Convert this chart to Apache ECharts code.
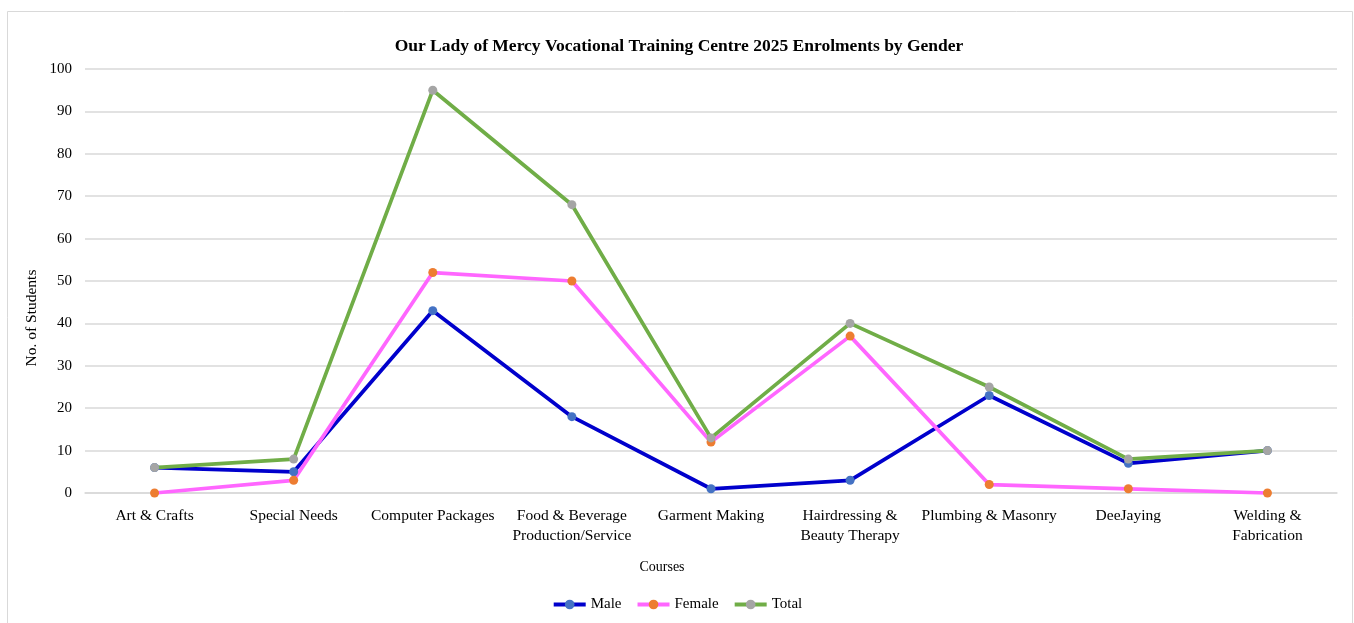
<!DOCTYPE html>
<html>
<head>
<meta charset="utf-8">
<script src="https://cdn.jsdelivr.net/npm/echarts@6/dist/echarts.min.js"></script>
<style>
html,body{margin:0;padding:0;background:#fff;}
#chart{width:1354px;height:623px;}
</style>
</head>
<body>
<div id="chart"></div>
<script>
const categories = ["Art & Crafts", "Special Needs", "Computer Packages", "Food & Beverage\nProduction/Service", "Garment Making", "Hairdressing &\nBeauty Therapy", "Plumbing & Masonry", "DeeJaying", "Welding &\nFabrication"];
const male = [6, 5, 43, 18, 1, 3, 23, 7, 10];
const female = [0, 3, 52, 50, 12, 37, 2, 1, 0];
const total = [6, 8, 95, 68, 13, 40, 25, 8, 10];
const titleText = "Our Lady of Mercy Vocational Training Centre 2025 Enrolments by Gender";

const font = "'Liberation Serif', 'DejaVu Serif', serif";
const chart = echarts.init(document.getElementById('chart'));

function mkSeries(name, data, lineColor, markerColor) {
  return {
    name: name, type: 'line', data: data,
    symbol: 'circle', symbolSize: 9, showAllSymbol: true,
    lineStyle: { color: lineColor, width: 3.75 },
    itemStyle: { color: markerColor, borderWidth: 0 },
    emphasis: { disabled: true },
    animation: false
  };
}

chart.setOption({
  animation: false,
  backgroundColor: '#fff',
  title: {
    text: titleText, left: 674, top: 32, textAlign: 'center',
    textStyle: { fontFamily: font, fontSize: 17.5, fontWeight: 'bold', color: '#000' }
  },
  graphic: [
    { type: 'rect', shape: { x: 7.5, y: 11.5, width: 1345, height: 640 }, style: { fill: 'none', stroke: '#d9d9d9', lineWidth: 1 }, silent: true, z: -1 },
    { type: 'text', x: 32, y: 318, rotation: Math.PI / 2, style: { text: 'No. of Students', fontFamily: font, fontSize: 15.5, fill: '#000', align: 'center', verticalAlign: 'middle' } },
    { type: 'text', x: 662, y: 567, style: { text: 'Courses', fontFamily: font, fontSize: 14, fill: '#000', align: 'center', verticalAlign: 'middle' } }
  ],
  legend: {
    data: ['Male', 'Female', 'Total'],
    left: 'center', top: 592,
    itemWidth: 32, itemHeight: 12, itemGap: 14,
    lineStyle: { width: 4 },
    textStyle: { fontFamily: font, fontSize: 15, color: '#000' }
  },
  grid: { left: 85, right: 17, top: 69, bottom: 130, containLabel: false },
  xAxis: {
    type: 'category', data: categories, boundaryGap: true,
    axisLine: { show: true, lineStyle: { color: '#d9d9d9', width: 1.5 } },
    axisTick: { show: false },
    axisLabel: { fontFamily: font, fontSize: 15.5, color: '#000', margin: 13, lineHeight: 20, interval: 0 }
  },
  yAxis: {
    type: 'value', min: 0, max: 100, interval: 10,
    axisLine: { show: false }, axisTick: { show: false },
    axisLabel: { fontFamily: font, fontSize: 15, color: '#000', margin: 13 },
    splitLine: { lineStyle: { color: '#d9d9d9', width: 1.5 } }
  },
  series: [
    mkSeries('Male', male, '#0000CC', '#4472C4'),
    mkSeries('Female', female, '#FF66FF', '#ED7D31'),
    mkSeries('Total', total, '#70AD47', '#A5A5A5')
  ]
});
</script>
</body>
</html>
